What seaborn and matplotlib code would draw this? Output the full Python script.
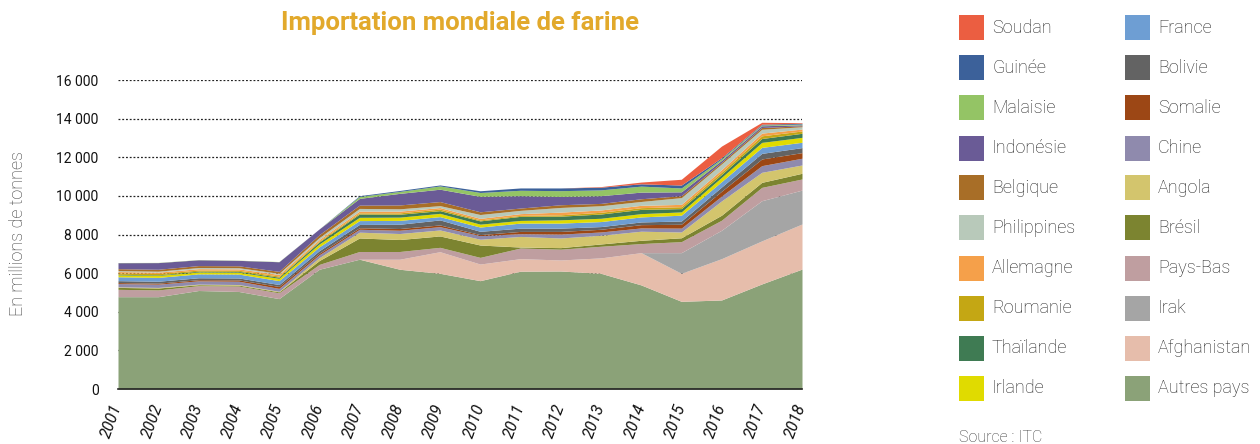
import matplotlib
matplotlib.use("Agg")
import matplotlib.pyplot as plt
import seaborn as sns
from matplotlib.patches import Rectangle

sns.set_theme(style="white")
plt.rcParams['font.family'] = ['Roboto', 'DejaVu Sans']

years = list(range(2001, 2019))

# stacking order, bottom to top (values in thousands of tonnes)
autres_pays = [4780, 4780, 5100, 5050, 4680, 6200, 6720, 6200, 5990, 5610, 6100, 6110, 5990, 5390, 4540, 4610, 5440, 6210]
afghanistan = [0, 0, 0, 0, 0, 0, 0, 520, 1120, 860, 650, 570, 800, 1670, 1450, 2140, 2230, 2335]
irak = [0, 0, 0, 0, 0, 0, 0, 0, 0, 0, 0, 0, 0, 0, 1070, 1470, 2080, 1755]
pays_bas = [380, 350, 250, 280, 300, 250, 400, 400, 225, 345, 550, 560, 600, 470, 570, 520, 690, 575]
bresil = [100, 100, 50, 50, 50, 200, 700, 620, 590, 640, 50, 80, 120, 170, 200, 260, 260, 295]
angola = [30, 30, 30, 30, 30, 150, 300, 310, 310, 300, 550, 500, 450, 470, 300, 740, 520, 430]
chine = [170, 170, 170, 170, 150, 150, 150, 170, 170, 190, 140, 200, 170, 170, 200, 250, 345, 350]
somalie = [50, 50, 60, 70, 100, 80, 80, 90, 90, 50, 120, 140, 140, 170, 200, 250, 345, 290]
bolivie = [100, 100, 100, 100, 100, 130, 170, 220, 260, 170, 170, 170, 140, 140, 170, 220, 290, 260]
france = [200, 200, 200, 200, 200, 200, 200, 200, 170, 220, 260, 260, 260, 260, 300, 280, 310, 275]
irlande = [100, 100, 100, 100, 120, 150, 170, 170, 170, 150, 140, 170, 170, 170, 170, 220, 260, 255]
thailande = [30, 30, 40, 40, 60, 100, 170, 150, 140, 170, 210, 190, 220, 220, 170, 150, 200, 210]
roumanie = [70, 70, 60, 60, 60, 50, 60, 70, 80, 50, 50, 70, 90, 90, 100, 120, 140, 120]
allemagne = [70, 70, 70, 70, 80, 80, 90, 90, 80, 80, 90, 140, 120, 120, 120, 130, 140, 100]
philippines = [50, 50, 60, 60, 60, 100, 140, 120, 100, 200, 170, 240, 220, 200, 350, 300, 200, 120]
belgique = [100, 100, 100, 100, 100, 150, 170, 200, 210, 140, 120, 140, 120, 140, 100, 80, 90, 50]
indonesie = [310, 345, 300, 280, 500, 300, 350, 600, 640, 800, 640, 430, 400, 345, 200, 100, 90, 50]
malaisie = [10, 10, 10, 10, 10, 0, 100, 100, 170, 200, 280, 300, 300, 310, 200, 80, 40, 40]
guinee = [0, 0, 0, 0, 0, 0, 40, 50, 50, 90, 120, 140, 140, 120, 150, 60, 40, 40]
soudan = [0, 0, 0, 0, 0, 0, 0, 0, 0, 0, 0, 0, 30, 90, 300, 600, 100, 30]

series = [autres_pays, afghanistan, irak, pays_bas, bresil, angola, chine, somalie,
          bolivie, france, irlande, thailande, roumanie, allemagne, philippines,
          belgique, indonesie, malaisie, guinee, soudan]
labels = ["Autres pays", "Afghanistan", "Irak", "Pays-Bas", "Brésil", "Angola", "Chine",
          "Somalie", "Bolivie", "France", "Irlande", "Thaïlande", "Roumanie", "Allemagne",
          "Philippines", "Belgique", "Indonésie", "Malaisie", "Guinée", "Soudan"]
colors = ["#8BA278", "#E6BDAB", "#A5A5A5", "#BF9EA0", "#7C8430", "#D3C56D", "#8F8AAD",
          "#9C4715", "#636363", "#6E9ED3", "#E0DB00", "#3F7B53", "#C4A714", "#F5A04A",
          "#B8C9BA", "#A86E27", "#6A5B96", "#94C465", "#3C619A", "#EB5E41"]

fig = plt.figure(figsize=(12.6, 4.44), dpi=100)
ax = fig.add_axes([118 / 1260, 1 - 389 / 444, (802 - 118) / 1260, (389 - 80) / 444])

for yv in range(2000, 16001, 2000):
    ax.axhline(yv, color="#222222", linestyle=(0, (1.5, 1.5)), linewidth=0.9, zorder=0)

ax.stackplot(years, *series, colors=colors, labels=labels, linewidth=0, zorder=2)

ax.set_xlim(2001, 2018)
ax.set_ylim(0, 16000)
for s in ["top", "right", "left"]:
    ax.spines[s].set_visible(False)
ax.spines["bottom"].set_color("#222222")
ax.spines["bottom"].set_linewidth(1.2)
ax.spines["bottom"].set_zorder(3)

ax.set_xticks(years)
ax.set_xticklabels([str(y) for y in years], rotation=70, ha="right", va="center",
                   rotation_mode="anchor", fontsize=11.5, fontstyle="italic", color="#111111")
ax.tick_params(axis="x", direction="out", length=6, width=1, color="#222222", pad=5)
ax.set_yticks(range(0, 16001, 2000))
ax.set_yticklabels([f"{v:,}".replace(",", " ") for v in range(0, 16001, 2000)], fontsize=10,
                   color="#111111")
ax.tick_params(axis="y", length=0, pad=14)

fig.text(18 / 1260, 1 - 234 / 444, "En millions de tonnes", rotation=90, ha="center", va="center",
         fontsize=13, color="#3a3a3a", fontweight="light")
fig.text(460 / 1260, 1 - 23 / 444, "Importation mondiale de farine", ha="center", va="center",
         fontsize=18.5, fontweight="bold", color="#E2A92B")

# legend: two columns, top of stack first
order = list(range(len(labels)))[::-1]
for k, idx in enumerate(order):
    col, row = divmod(k, 10)
    x0 = 959 + col * 166
    yc = 28 + row * 40
    fig.patches.append(Rectangle((x0 / 1260, 1 - (yc + 12.5) / 444), 25 / 1260, 25 / 444,
                                 transform=fig.transFigure, facecolor=colors[idx], edgecolor="none"))
    fig.text((x0 + 33) / 1260, 1 - yc / 444, labels[idx], ha="left", va="center",
             fontsize=13, color="#222222", fontweight="light")

fig.text(959 / 1260, 1 - 437 / 444, "Source : ITC", ha="left", va="center",
         fontsize=11.5, color="#3a3a3a", fontweight="light")

fig.savefig("out.png", dpi=100)
